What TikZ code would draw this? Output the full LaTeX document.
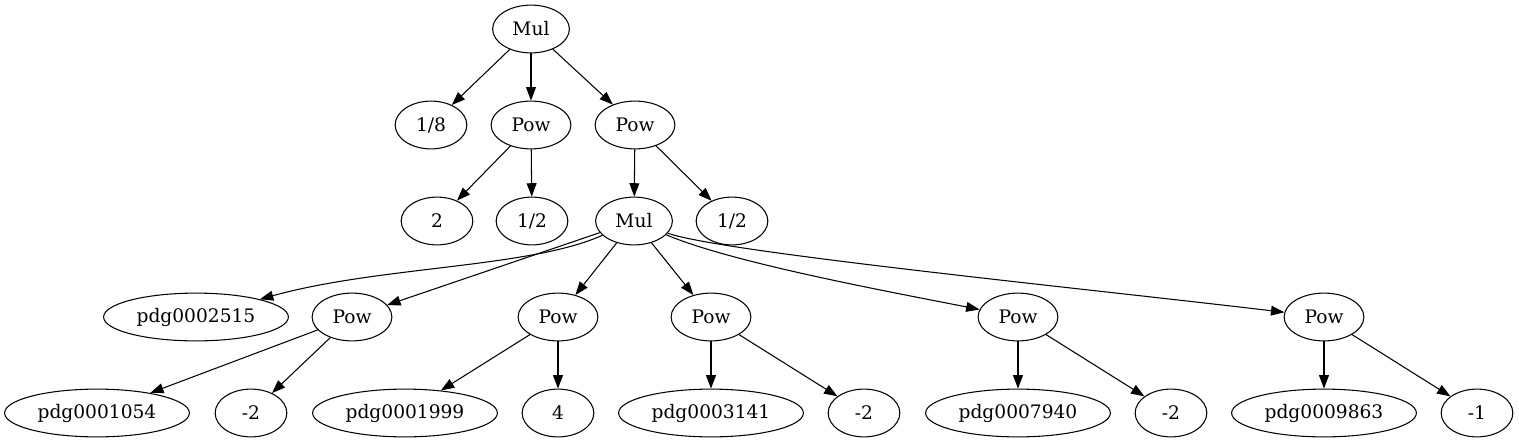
\documentclass[tikz,border=0pt]{standalone}
\usepackage{fontspec}
\setmainfont{DejaVu Serif}
\usetikzlibrary{shapes.geometric, arrows.meta}

\begin{document}
\begin{tikzpicture}[
    x=0.02cm,
    y=-0.02cm,
    nd/.style={
        ellipse,
        draw=black,
        line width=0.6pt,
        font=\fontsize{10.6}{12}\selectfont,
        inner xsep=3.4pt,
        inner ysep=0pt,
        minimum height=27.2pt,
        minimum width=40.8pt
    },
    op/.style={
        nd,
        minimum width=45.4pt
    },
    mulop/.style={
        nd,
        minimum width=43.7pt
    },
    arrow/.style={
        -{Triangle[length=7.6pt, width=5.6pt]},
        line width=0.6pt,
        draw=black
    }
]
    \useasboundingbox (0,0) rectangle (1519,443);

    % top levels
    \node [mulop] (mul1) at (531,29) {Mul};
    \node [nd] (eighth) at (431,125) {1/8};
    \node [op] (pow1) at (531,125) {Pow};
    \node [op] (pow2) at (635,125) {Pow};
    \node [nd] (two) at (437,221) {2};
    \node [nd] (half1) at (532,221) {1/2};
    \node [mulop] (mul2) at (634,221) {Mul};
    \node [nd] (half2) at (732,221) {1/2};

    % factors of the inner product
    \node [nd] (pdgA) at (196,317) {pdg0002515};
    \node [op] (pow3) at (352,317) {Pow};
    \node [op] (pow4) at (558,317) {Pow};
    \node [op] (pow5) at (711,317) {Pow};
    \node [op] (pow6) at (1018,317) {Pow};
    \node [op] (pow7) at (1324,317) {Pow};

    % leaves
    \node [nd] (pdgB) at (97,413) {pdg0001054};
    \node [nd] (expB) at (251,413) {-2};
    \node [nd] (pdgC) at (405,413) {pdg0001999};
    \node [nd] (expC) at (558,413) {4};
    \node [nd] (pdgD) at (711,413) {pdg0003141};
    \node [nd] (expD) at (864,413) {-2};
    \node [nd] (pdgE) at (1018,413) {pdg0007940};
    \node [nd] (expE) at (1171,413) {-2};
    \node [nd] (pdgF) at (1324,413) {pdg0009863};
    \node [nd] (expF) at (1477,413) {-1};

    \draw [arrow] (mul1) -- (eighth);
    \draw [arrow] (mul1) -- (pow1);
    \draw [arrow] (mul1) -- (pow2);
    \draw [arrow] (pow1) -- (two);
    \draw [arrow] (pow1) -- (half1);
    \draw [arrow] (pow2) -- (mul2);
    \draw [arrow] (pow2) -- (half2);

    \draw [arrow] (mul2) .. controls (530,268) and (380,266) .. (pdgA);
    \draw [arrow] (mul2) -- (pow3);
    \draw [arrow] (mul2) -- (pow4);
    \draw [arrow] (mul2) -- (pow5);
    \draw [arrow] (mul2) .. controls (730,262) and (880,290) .. (pow6);
    \draw [arrow] (mul2) .. controls (720,252) and (1080,288) .. (pow7);

    \draw [arrow] (pow3) -- (pdgB);
    \draw [arrow] (pow3) -- (expB);
    \draw [arrow] (pow4) -- (pdgC);
    \draw [arrow] (pow4) -- (expC);
    \draw [arrow] (pow5) -- (pdgD);
    \draw [arrow] (pow5) -- (expD);
    \draw [arrow] (pow6) -- (pdgE);
    \draw [arrow] (pow6) -- (expE);
    \draw [arrow] (pow7) -- (pdgF);
    \draw [arrow] (pow7) -- (expF);
\end{tikzpicture}
\end{document}
